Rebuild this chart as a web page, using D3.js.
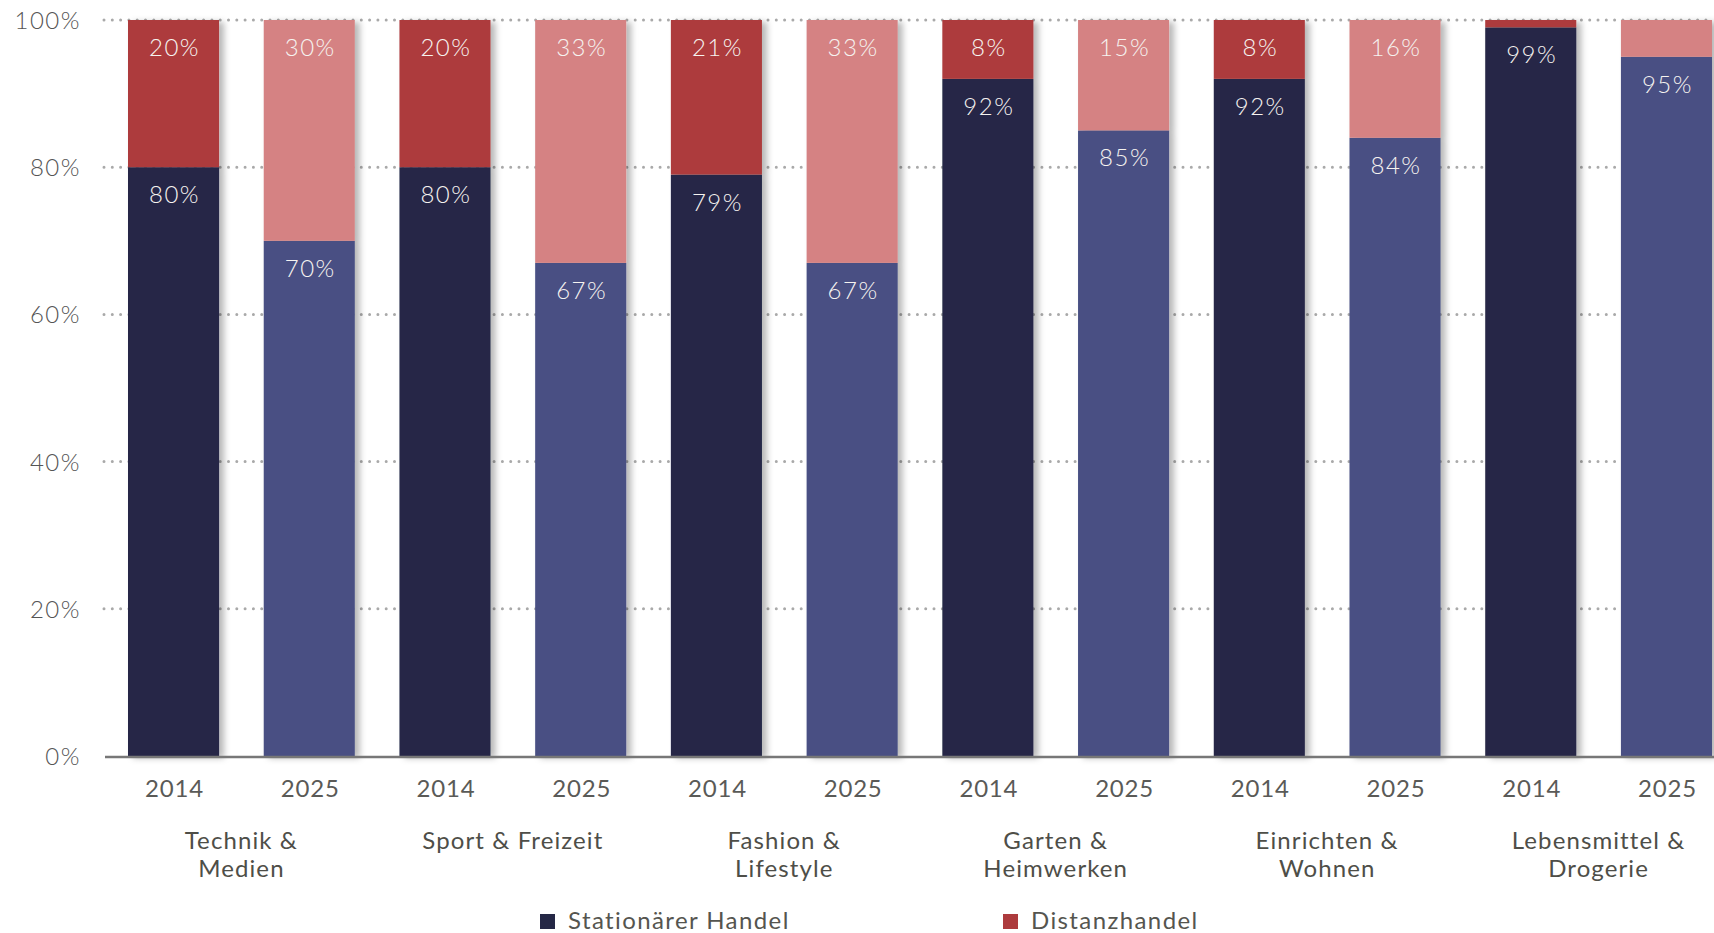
<!DOCTYPE html>
<html lang="de">
<head>
<meta charset="utf-8">
<title>Stationärer Handel vs. Distanzhandel 2014 / 2025</title>
<script src="https://cdn.jsdelivr.net/npm/d3@7"></script>
<style>
  html, body { margin: 0; padding: 0; background: #ffffff; }
  svg { display: block; font-family: Lato, "Open Sans", sans-serif; font-weight: 300; }
</style>
</head>
<body>
<svg id="chart" width="1714" height="933"></svg>
<script>
// Shares of retail sales (%) per product group, 2014 and 2025
const categories = [
  ["Technik &", "Medien"],
  ["Sport & Freizeit"],
  ["Fashion &", "Lifestyle"],
  ["Garten &", "Heimwerken"],
  ["Einrichten &", "Wohnen"],
  ["Lebensmittel &", "Drogerie"]
];
const years = ["2014", "2025"];
const stationaer2014 = [80, 80, 79, 92, 92, 99];
const distanz2014    = [20, 20, 21, 8, 8, 1];
const stationaer2025 = [70, 67, 67, 85, 84, 95];
const distanz2025    = [30, 33, 33, 15, 16, 5];
const yTicks = [0, 20, 40, 60, 80, 100];
const seriesNames = ["Stationärer Handel", "Distanzhandel"];

// Colours: [stationär, distanz] per year
const palette = {
  "2014": ["#252846", "#ad3b3d"],
  "2025": ["#485083", "#d58283"]
};
const minLabelValue = 6;

// One row per bar (category x year)
const bars = [];
categories.forEach((cat, i) => {
  bars.push({ key: i + "-2014", cat: i, year: "2014", stat: stationaer2014[i], dist: distanz2014[i] });
  bars.push({ key: i + "-2025", cat: i, year: "2025", stat: stationaer2025[i], dist: distanz2025[i] });
});

const svg = d3.select("#chart");

const x = d3.scaleBand()
  .domain(bars.map(d => d.key))
  .range([128, 1712])
  .paddingInner(0.329)
  .paddingOuter(0);

const y = d3.scaleLinear().domain([0, 100]).range([756, 20]);

// Soft shadow to the right of each bar
const defs = svg.append("defs");
const shadow = defs.append("filter").attr("id", "barShadow")
  .attr("x", "-10%").attr("y", "-5%").attr("width", "140%").attr("height", "115%");
shadow.append("feDropShadow")
  .attr("dx", 5).attr("dy", 2).attr("stdDeviation", 3)
  .attr("flood-color", "#000").attr("flood-opacity", 0.28);

// Dotted gridlines
svg.append("g").attr("class", "grid")
  .selectAll("line").data(yTicks.filter(t => t > 0)).join("line")
  .attr("x1", 104).attr("x2", 1714)
  .attr("y1", d => y(d)).attr("y2", d => y(d))
  .attr("stroke", "#a9a9a9").attr("stroke-width", 3)
  .attr("stroke-linecap", "round").attr("stroke-dasharray", "0,8.3");

// Y axis labels
const yAxis = d3.axisLeft(y).tickValues(yTicks).tickFormat(d => d + "%").tickSize(0).tickPadding(0);
const yg = svg.append("g").attr("transform", "translate(81,0)").call(yAxis);
yg.select(".domain").remove();
yg.selectAll("text")
  .attr("font-size", 24).attr("fill", "#555555")
  .attr("font-family", "Lato, sans-serif")
  .attr("font-weight", 300)
  .attr("letter-spacing", 1.5)
  .attr("dy", "0.35em");

// Stacked bars
const barG = svg.append("g").selectAll("g.bar").data(bars).join("g")
  .attr("class", "bar")
  .attr("filter", "url(#barShadow)");

barG.append("rect")
  .attr("x", d => x(d.key)).attr("width", x.bandwidth())
  .attr("y", d => y(d.stat)).attr("height", d => y(0) - y(d.stat))
  .attr("fill", d => palette[d.year][0]);

barG.append("rect")
  .attr("x", d => x(d.key)).attr("width", x.bandwidth())
  .attr("y", d => y(d.stat + d.dist)).attr("height", d => y(d.stat) - y(d.stat + d.dist))
  .attr("fill", d => palette[d.year][1]);

// Axis baseline
svg.append("line")
  .attr("x1", 105).attr("x2", 1714)
  .attr("y1", y(0) + 1).attr("y2", y(0) + 1)
  .attr("stroke", "#777777").attr("stroke-width", 2.5);

// Value labels inside the segments
const labelG = svg.append("g").attr("font-size", 24).attr("fill", "#f6f3f0")
  .attr("text-anchor", "middle").attr("letter-spacing", 1.5);

labelG.selectAll("text.stat").data(bars).join("text")
  .attr("class", "stat")
  .attr("x", d => x(d.key) + x.bandwidth() / 2 + 1)
  .attr("y", d => y(d.stat) + 36)
  .text(d => d.stat + "%");

labelG.selectAll("text.dist").data(bars.filter(d => d.dist >= minLabelValue)).join("text")
  .attr("class", "dist")
  .attr("x", d => x(d.key) + x.bandwidth() / 2 + 1)
  .attr("y", d => y(d.stat + d.dist) + 36)
  .text(d => d.dist + "%");

// Year labels
svg.append("g").selectAll("text").data(bars).join("text")
  .attr("x", d => x(d.key) + x.bandwidth() / 2 + 1)
  .attr("y", 797)
  .attr("text-anchor", "middle")
  .attr("font-size", 24).attr("font-weight", 400).attr("fill", "#5a5a57")
  .attr("letter-spacing", 0.8)
  .text(d => d.year);

// Category labels (centred under each pair of bars)
const catG = svg.append("g").selectAll("text").data(categories).join("text")
  .attr("text-anchor", "middle")
  .attr("font-size", 24).attr("font-weight", 400).attr("fill", "#4e4e48")
  .attr("letter-spacing", 1.1)
  .attr("transform", (d, i) => {
    const cx = (x(i + "-2014") + x(i + "-2025") + x.bandwidth()) / 2;
    return `translate(${cx},849)`;
  });
catG.selectAll("tspan").data(d => d).join("tspan")
  .attr("x", 0).attr("dy", (d, j) => j === 0 ? 0 : 28)
  .text(d => d);

// Legend
const legendX = [540, 1003];
const legend = svg.append("g").selectAll("g").data(seriesNames).join("g")
  .attr("transform", (d, i) => `translate(${legendX[i]},914)`);
legend.append("rect")
  .attr("width", 15).attr("height", 15)
  .attr("fill", (d, i) => palette["2014"][i]);
legend.append("text")
  .attr("x", 28).attr("y", 15)
  .attr("font-size", 24).attr("font-weight", 400).attr("fill", "#55554f")
  .attr("letter-spacing", 1.4)
  .text(d => d);
</script>
</body>
</html>
